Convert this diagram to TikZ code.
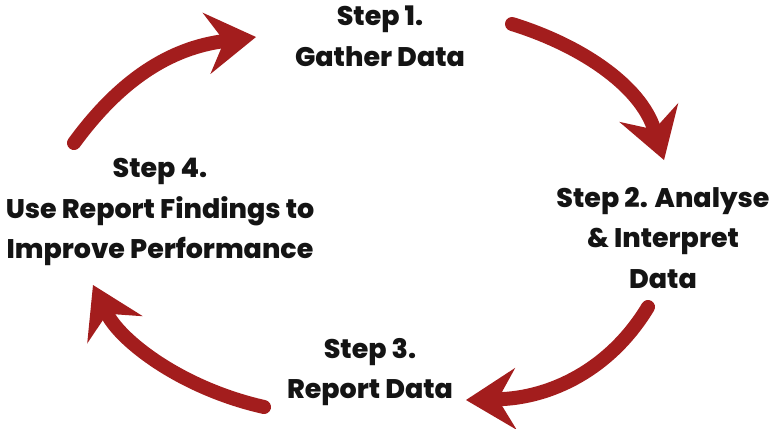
\documentclass[tikz,border=0pt]{standalone}
\usepackage{fontspec}
\setmainfont{Poppins}[BoldFont={Poppins ExtraBold}]
\usepackage{xcolor}
\usetikzlibrary{arrows.meta}
\definecolor{cyclered}{RGB}{163,29,29}

\begin{document}
\begin{tikzpicture}[
  x=1bp, y=-1bp,
  steptext/.style={align=center, inner sep=0pt,
    font=\fontsize{27}{41}\selectfont\bfseries, text=black!92},
  cyclearr/.style={line width=14bp, cyclered, line cap=round,
    -{Stealth[length=50bp, width=62bp, inset=18bp, line width=0pt]}},
]
\useasboundingbox (0,0) rectangle (774,428);
% ====== STEP LABELS ======
\node[steptext] (s1_text) at (380,36) {Step 1.\\Gather Data};
\node[steptext] (s2_text) at (663,238) {Step 2. Analyse\\\& Interpret\\Data};
\node[steptext] (s3_text) at (370,372) {Step 3.\\Report Data};
\node[steptext] (s4_text) at (160,212) {Step 4.\\Use Report Findings to\\Improve Performance};
%
% ====== ARROW ENDS ======
\coordinate (a1_tail) at (74,143);
\coordinate (a1_tip) at (256,37);
\coordinate (a2_tail) at (512,24);
\coordinate (a2_tip) at (664,160);
\coordinate (a3_tail) at (648,307);
\coordinate (a3_tip) at (466,400);
\coordinate (a4_tail) at (264,407);
\coordinate (a4_tip) at (93,285);
%
% ====== CYCLE ARROWS ======
\draw[cyclearr] (a1_tail) .. controls (120,80) and (170,48) .. (a1_tip);
\draw[cyclearr] (a2_tail) .. controls (580,45) and (640,85) .. (a2_tip);
\draw[cyclearr] (a3_tail) .. controls (610,370) and (550,398) .. (a3_tip);
\draw[cyclearr] (a4_tail) .. controls (180,388) and (120,340) .. (a4_tip);
\end{tikzpicture}
\end{document}
